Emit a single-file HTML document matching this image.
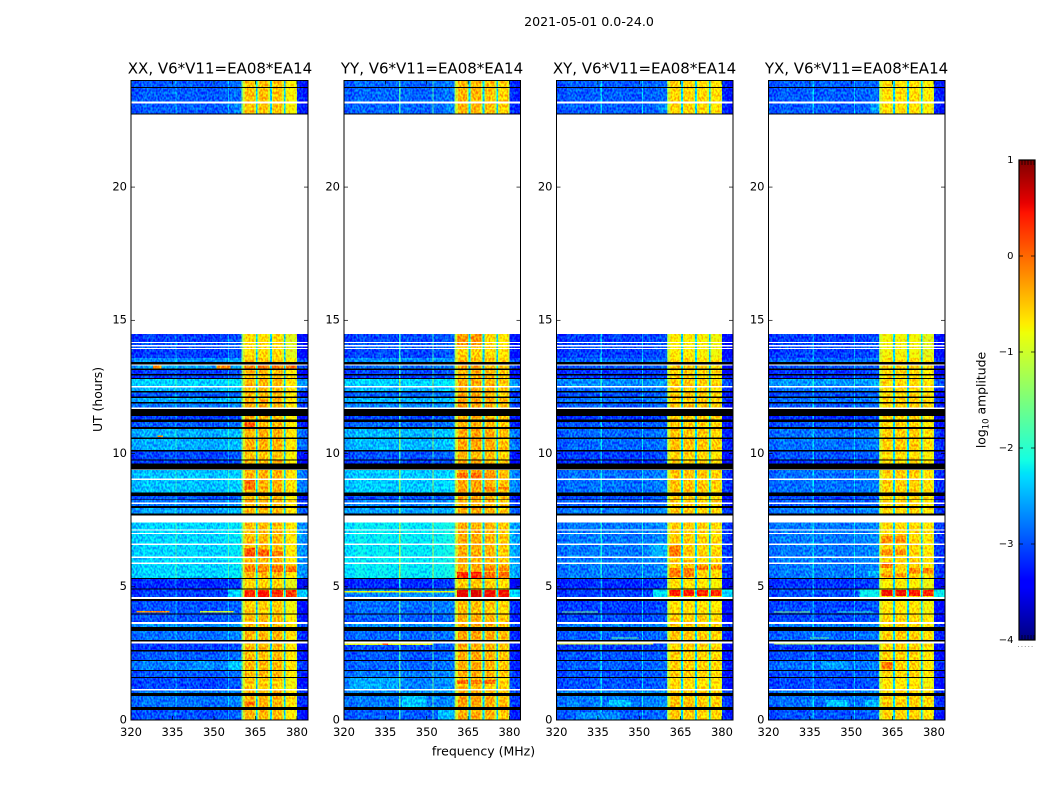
<!DOCTYPE html>
<html><head><meta charset="utf-8"><title>Spectrogram panels</title>
<style>
html,body{margin:0;padding:0;background:#fff;width:1050px;height:800px;overflow:hidden}
svg{display:block}
text{font-family:"DejaVu Sans","Liberation Sans",sans-serif;fill:#000}
</style></head><body>
<svg id="chart" xmlns="http://www.w3.org/2000/svg" width="1050" height="800" viewBox="0 0 1050 800">
<defs>
<filter id="speckle" x="0" y="0" width="1" height="1" color-interpolation-filters="sRGB">
<feTurbulence type="fractalNoise" baseFrequency="0.55 0.38" numOctaves="1" seed="7" result="n"/>
<feColorMatrix in="n" type="matrix" values="0 0 0 0 0.5 2.6 0 0 0 -0.8 0 0 0 0 0.5 0 0 0 0 1" result="g"/>
<feComposite in="SourceGraphic" in2="g" operator="arithmetic" k1="0" k2="1" k3="0.5" k4="-0.25" result="m"/>
<feComposite in="m" in2="SourceAlpha" operator="in"/>
</filter>
</defs>
<text x="589" y="26" font-size="12.6" text-anchor="middle">2021-05-01 0.0-24.0</text>
<text x="220" y="73.5" font-size="15" text-anchor="middle">XX, V6*V11=EA08*EA14</text>
<text x="432" y="73.5" font-size="15" text-anchor="middle">YY, V6*V11=EA08*EA14</text>
<text x="644.5" y="73.5" font-size="15" text-anchor="middle">XY, V6*V11=EA08*EA14</text>
<text x="856.5" y="73.5" font-size="15" text-anchor="middle">YX, V6*V11=EA08*EA14</text>
<text x="483.5" y="755.5" font-size="12.5" text-anchor="middle">frequency (MHz)</text>
<text transform="translate(102,399.5) rotate(-90)" font-size="12.4" text-anchor="middle">UT (hours)</text>
<text transform="translate(985.5,400) rotate(-90)" font-size="12.4" text-anchor="middle">log<tspan font-size="8.5" dy="3">10</tspan><tspan dy="-3"> amplitude</tspan></text>
<g id="panels"></g>
<g id="colorbar"></g>
</svg>
<script>
// ---- data (hours UT, MHz, log10 amplitude) ----
const xTickValues = [320,335,350,365,380];
const yTickValues = [0,5,10,15,20];
const colorTickValues = [1,0,-1,-2,-3,-4];
const rowStart = [0,.49,1.01,1.15,1.6,1.87,2.25,2.6,3,3.49,3.64,3.98,4.58,4.92,5.33,7.75,8.03,8.27,8.53,9.62,9.74,10.13,10.6,11,11.28,11.72,11.93,12.15,12.35,12.53,12.84,12.98,13.2,13.43,13.58,13.96,14.07,14.19,22.74];
const rowEnd = [.38,.91,1.14,1.6,1.87,2.25,2.6,2.9,3.34,3.64,3.98,4.47,4.9,5.29,7.47,7.95,8.25,8.4,9.38,9.74,10.1,10.54,10.93,11.18,11.4,11.88,12.08,12.3,12.47,12.8,12.92,13.13,13.3,13.58,13.92,14.02,14.14,14.48,24];
const lowXX = [-3,-2.85,-2.8,-3.05,-2.95,-2.8,-2.95,-3.1,-2.85,-2.7,-3,-3,-3.1,-3.2,-2.35,-2.6,-2.8,-3,-2.45,-3.1,-3.05,-2.55,-2.55,-2.95,-3.1,-2.8,-2.55,-2.95,-2.5,-2.35,-3.1,-3.1,-2.6,-2.7,-3.1,-3,-3,-3.1,-2.95];
const lowYY = [-2.95,-2.8,-2.7,-2.75,-2.8,-2.9,-2.95,-3,-2.9,-2.7,-2.95,-2.85,-2.7,-3.2,-2.25,-2.6,-2.75,-3,-2.4,-3.1,-3,-2.5,-2.5,-2.9,-3.05,-2.75,-2.5,-2.9,-2.5,-2.35,-3.1,-3.05,-2.85,-2.7,-3.05,-2.95,-2.95,-3.05,-2.9];
const lowXY = [-2.95,-2.8,-2.75,-3,-3,-2.95,-3,-3.1,-2.95,-2.8,-3.05,-3.1,-3.1,-3.2,-2.8,-2.8,-2.95,-3.05,-2.85,-3.15,-3.1,-2.9,-2.9,-3,-3.15,-2.95,-2.85,-3,-2.85,-2.7,-3.15,-3.15,-3,-2.9,-3.1,-3.05,-3.05,-3.1,-2.95];
const lowYX = [-3,-2.85,-2.8,-3.05,-3,-2.85,-3,-3.1,-2.9,-2.8,-3.05,-3.05,-3,-3.15,-2.8,-2.8,-2.95,-3.05,-2.85,-3.15,-3,-2.85,-2.85,-3,-3.15,-2.95,-2.85,-3,-2.85,-2.65,-3.15,-3.15,-3,-2.9,-3.1,-3.05,-3.05,-3.1,-2.95];
const blockShift = [0,.05,0,-.1,0,0,0,0,.05,0,0,-.1,-.05,-.15,0,0,0,0,.05,0,-.05,.05,.05,0,0,.05,.05,0,0,0,0,0,0,-.05,-.2,-.2,-.2,-.2,-.05];
const blockXX = [-.42,-.42,-.42,-.7];
const blockYY = [-.35,-.35,-.4,-.5];
const blockXY = [-.52,-.52,-.55,-.6];
const blockYX = [-.58,-.58,-.58,-.68];
const blockFrom = [361,366,371,376];
const blockTo = [364.9,369.9,374.9,379.8];
const channelEdges = [320,324,328,332,336,340,344,348,352,356,360,360.5,361.3,364.6,365.2,365.8,366.3,369.6,370.3,370.9,371.3,374.6,375.3,375.9,376.3,379.5,380,382,384];
const channelBlock = [-1,-1,-1,-1,-1,-1,-1,-1,-1,-1,6,7,0,7,4,7,1,7,4,7,2,7,4,7,3,7,5,5];
const channelOffset = [-.05,.05,0,.05,0,.05,0,0,.05,.1,0,0,0,0,0,0,0,0,0,0,0,0,0,0,0,0,.05,-.05];
const spikesXX = [336,355];
const spikesYY = [340,352];
const spikesXY = [336,351];
const spikesYX = [336,351];
const spikeBoost = [.5,1.05,.65,.55];
const blackFlags = [[.38,.49],[.91,1.01],[1.58,1.62],[1.83,1.88],[2.22,2.26],[2.58,2.62],[2.95,3],[3.34,3.49],[3.96,4],[4.47,4.55],[4.89,4.93],[5.29,5.33],[7.67,7.75],[7.95,8.03],[8.25,8.27],[8.4,8.53],[9.41,9.62],[9.74,9.77],[10.08,10.13],[10.54,10.6],[10.93,11],[11.18,11.28],[11.4,11.68],[11.88,11.93],[12.08,12.15],[12.3,12.35],[12.8,12.84],[12.92,12.98],[13.13,13.2],[13.35,13.43],[22.72,22.76],[23.72,23.76]];
const whiteFlags = [[1.11,1.16],[2.87,2.93],[3.6,3.68],[4.55,4.61],[5.85,5.92],[6.08,6.14],[6.56,6.62],[6.98,7.02],[7.11,7.15],[7.41,7.46],[7.47,7.66],[8.11,8.16],[9.01,9.06],[9.38,9.41],[11.68,11.72],[12.47,12.53],[13.3,13.35],[13.92,13.96],[14.02,14.07],[14.14,14.19],[23.14,23.22]];
// [panel, hourFrom, hourTo, mhzFrom, mhzTo, level]
const lowPatches = [
[0,13.2,13.3,328,331,-.2],[0,13.2,13.3,351,356,-.2],[0,10.62,10.68,329.5,331.5,-.2],[0,4.04,4.09,322,334,-.2],[0,4.04,4.09,345,357,-1],
[0,1.87,2.25,343,350,-2.65],[0,1.87,2.25,355,360,-2.4],[0,4.62,4.9,355,360,-2.35],[0,4.62,4.9,380,384,-2.4],
[1,4.78,4.84,320,360,-.85],[1,4.62,4.9,380,384,-2.3],[1,.49,.9,341,350,-2.4],[1,0,.38,354,360,-2.45],[1,1.15,1.6,322,340,-2.55],[1,2.82,2.87,320,352,-.9],[1,2.82,2.87,334,336,.1],
[2,.5,.75,339,347,-2.45],[2,0,.3,327,343,-2.7],[2,2.83,2.87,320,355,-.9],[2,3.05,3.09,340,350,-1.7],[2,4.03,4.08,322,335,-1.6],[2,4.62,4.9,355,360,-2.25],[2,4.62,4.9,380,384,-2.3],[2,6.1,6.6,354,360,-2.5],
[3,.5,.75,341,349,-2.4],[3,.5,.75,355,360,-2.5],[3,1.9,2.2,339,349,-2.6],[3,2.83,2.87,322,360,-1.2],[3,3.05,3.09,335,342,-1.7],[3,4.03,4.08,322,335,-1.5],[3,4.03,4.08,345,358,-2],[3,4.62,4.9,353,360,-2.2],[3,4.62,4.9,380,384,-2.2],[3,5.4,5.6,356,360,-2.5],
[3,22.8,23.14,357,360,-2.6],[2,22.8,23.14,357,360,-2.7],[1,22.8,23.14,357,360,-2.7],[0,22.8,23.14,357,360,-2.7]
];
// [panel, hourFrom, hourTo, blockNumber, level]
const hotPatches = [
[0,6.12,6.45,0,.1],[0,6.12,6.4,1,.05],[0,6.15,6.35,2,-.1],[0,5.55,5.8,0,-.1],[0,5.55,5.8,1,-.15],[0,5.55,5.8,2,-.05],[0,5.55,5.8,3,-.05],
[0,4.62,4.88,0,.35],[0,4.62,4.88,1,.45],[0,4.62,4.88,2,.3],[0,4.62,4.88,3,.3],[0,8.63,9,0,-.05],[0,10.95,11.2,0,.05],[0,.55,.7,0,-.05],[0,13.2,13.3,0,-.1],[0,13.2,13.3,1,-.1],[0,13.2,13.3,2,-.1],[0,13.2,13.3,3,-.1],
[1,5.3,5.55,0,.3],[1,5.3,5.55,1,.35],[1,5.3,5.55,2,-.05],[1,5.3,5.55,3,-.05],[1,4.62,4.88,0,.55],[1,4.62,4.88,1,.6],[1,4.62,4.88,2,.5],[1,4.62,4.88,3,.5],[1,9.1,9.27,0,.0],[1,9.1,9.27,1,.0],[1,9.1,9.27,2,-.2],[1,8.65,8.75,2,-.1],[1,8.65,8.75,3,-.1],[1,5.6,5.8,2,-.2],[1,5.6,5.8,3,-.2],[1,14,14.48,0,-.25],[1,14,14.48,1,-.25],[1,1.35,1.5,0,-.05],[1,1.35,1.5,1,-.05],[1,1.35,1.5,2,-.05],
[2,4.65,4.88,0,.45],[2,4.65,4.88,1,.45],[2,4.65,4.88,2,.4],[2,4.65,4.88,3,.35],[2,5.37,5.7,0,-.1],[2,5.37,5.7,1,-.1],[2,5.65,5.8,2,-.05],[2,5.65,5.8,3,-.15],[2,6.1,6.55,0,-.1],
[3,4.65,4.88,0,.5],[3,4.65,4.88,1,.5],[3,4.65,4.88,2,.4],[3,4.65,4.88,3,.35],[3,6.2,6.4,0,-.15],[3,6.2,6.4,1,-.2],[3,5.7,5.93,0,-.05],[3,5.37,5.5,0,-.2],[3,5.37,5.5,1,-.2],[3,5.5,5.7,2,-.15],[3,5.5,5.7,3,-.15],[3,6.65,6.9,0,-.2],[3,6.65,6.9,1,-.2],[3,1.9,2.18,0,-.1]
];

// ---- layout ----
const svgNS = 'http://www.w3.org/2000/svg';
const panelLeft = [131,344,556.5,768.5];
const panelRight = [308,520.5,733,945];
const plotBottom = 720, plotTop = 80.5;
const hoursMin = 0, hoursMax = 24, mhzMin = 320, mhzMax = 384;
const panelCodes = ['xx','yy','xy','yx'];
const lowByPanel = [lowXX,lowYY,lowXY,lowYX];
const blocksByPanel = [blockXX,blockYY,blockXY,blockYX];
const spikesByPanel = [spikesXX,spikesYY,spikesXY,spikesYX];

function xScale(p,m){return panelLeft[p]+(m-mhzMin)/(mhzMax-mhzMin)*(panelRight[p]-panelLeft[p]);}
function yScale(h){return plotBottom-(h-hoursMin)/(hoursMax-hoursMin)*(plotBottom-plotTop);}
function ramp(t,pts){for(let i=1;i<pts.length;i++){if(t<=pts[i][0]){const a=pts[i-1],b=pts[i];return a[1]+(b[1]-a[1])*(t-a[0])/(b[0]-a[0]);}}return pts[pts.length-1][1];}
function colorScale(v){
  const t=Math.max(0,Math.min(1,(v+4)/5));
  const r=ramp(t,[[0,0],[.35,0],[.66,1],[.89,1],[1,.5]]);
  const g=ramp(t,[[0,0],[.125,0],[.375,1],[.64,1],[.91,0],[1,0]]);
  const b=ramp(t,[[0,.5],[.11,1],[.34,1],[.65,0],[1,0]]);
  return 'rgb('+Math.round(r*255)+','+Math.round(g*255)+','+Math.round(b*255)+')';
}
function mk(tag,parent,attrs){const e=document.createElementNS(svgNS,tag);for(const k in attrs)e.setAttribute(k,attrs[k]);parent.appendChild(e);return e;}
function cell(parent,p,h0,h1,m0,m1,fill){
  const x0=xScale(p,m0),x1=xScale(p,m1),y0=yScale(h1),y1=yScale(h0);
  return mk('rect',parent,{x:x0.toFixed(2),y:y0.toFixed(2),width:(x1-x0).toFixed(2),height:(y1-y0).toFixed(2),fill:fill,'shape-rendering':'crispEdges'});
}

const panels=document.getElementById('panels');
panelCodes.forEach(function(code,p){
  const g=mk('g',panels,{});
  
  
  const heat=mk('g',g,{filter:'url(#speckle)'});
  
  
  rowStart.forEach(function(h0,b){
    const h1=rowEnd[b], low=lowByPanel[p][b];
    channelBlock.forEach(function(k,c){
      let v;
      if(k===-1) v=low+channelOffset[c];
      else if(k===4) v=-2.35;
      else if(k===5) v=low-.3+channelOffset[c];
      else if(k===6) v=-1.5;
      else if(k===7) v=-.95;
      else v=blocksByPanel[p][k]+blockShift[b]+channelOffset[c];
      const r=cell(heat,p,h0,h1,channelEdges[c],channelEdges[c+1],colorScale(v));
      
      
    });
    spikesByPanel[p].forEach(function(m){
      const r=cell(heat,p,h0,h1,m,m+.45,colorScale(low+spikeBoost[p]));
      
      
    });
  });
  lowPatches.forEach(function(q){
    if(q[0]!==p) return;
    const r=cell(heat,p,q[1],q[2],q[3],q[4],colorScale(q[5]));
    
    
  });
  hotPatches.forEach(function(q){
    if(q[0]!==p) return;
    const r=cell(heat,p,q[1],q[2],blockFrom[q[3]],blockTo[q[3]],colorScale(q[4]));
    
    
  });
  const flagsG=mk('g',g,{});
  
  
  whiteFlags.forEach(function(f){
    const r=cell(flagsG,p,f[0],f[1],mhzMin,mhzMax,'#fff');
    
    
  });
  blackFlags.forEach(function(f){
    const r=cell(flagsG,p,f[0],f[1],mhzMin,mhzMax,'#000');
    
    
  });
  const L=panelLeft[p],R=panelRight[p];
  const frame=mk('rect',g,{x:L,y:plotTop,width:R-L,height:plotBottom-plotTop,fill:'none',stroke:'#000','stroke-width':1});
  
  
  xTickValues.forEach(function(m){
    const x=xScale(p,m);
    const t1=mk('line',g,{x1:x,x2:x,y1:plotBottom,y2:plotBottom-4,stroke:'#000','stroke-width':.7});
    
    
    const t2=mk('line',g,{x1:x,x2:x,y1:plotTop,y2:plotTop+4,stroke:'#000','stroke-width':.7});
    
    
    const lb=mk('text',g,{x:x,y:736,'font-size':11.5,'text-anchor':'middle'});
    lb.textContent=String(m);
    
    
  });
  yTickValues.forEach(function(h){
    const y=yScale(h);
    const t1=mk('line',g,{x1:L,x2:L+4,y1:y,y2:y,stroke:'#000','stroke-width':.7});
    
    
    const t2=mk('line',g,{x1:R-4,x2:R,y1:y,y2:y,stroke:'#000','stroke-width':.7});
    
    
    const lb=mk('text',g,{x:L-4,y:y+3.3,'font-size':11.5,'text-anchor':'end'});
    lb.textContent=String(h);
    
    
  });
});

// ---- colorbar ----
const cbTop=160,cbBottom=640,cbL=1019,cbR=1035;
function cbY(v){return cbBottom-(v+4)/5*(cbBottom-cbTop);}
const cb=document.getElementById('colorbar');
for(let py=cbTop;py<cbBottom;py++){
  const v=-4+(cbBottom-py-.5)/(cbBottom-cbTop)*5;
  const r=mk('rect',cb,{x:cbL,y:py,width:cbR-cbL,height:1,fill:colorScale(v),'shape-rendering':'crispEdges'});
  
  
}
const cbFrame=mk('rect',cb,{x:cbL,y:cbTop,width:cbR-cbL,height:cbBottom-cbTop,fill:'none',stroke:'#000','stroke-width':1.2});


colorTickValues.forEach(function(v){
  const y=cbY(v);
  const lb=mk('text',cb,{x:1013.5,y:y+3,'font-size':10,'text-anchor':'end'});
  lb.textContent=(v<0?'\u2212':'')+Math.abs(v);
  
  
  [[cbL,cbL+4],[cbR-4,cbR]].forEach(function(s){
    const t=mk('line',cb,{x1:s[0],x2:s[1],y1:y,y2:y,stroke:'#000','stroke-width':.7});
    
    
  });
});
[1022,1025,1028,1031,1034].forEach(function(x){
  [[cbTop,cbTop+5],[cbBottom-5,cbBottom]].forEach(function(s){
    const t=mk('line',cb,{x1:x,x2:x,y1:s[0],y2:s[1],stroke:'#000','stroke-width':.7});
    
    
  });
});
const dots=mk('line',cb,{x1:1018,x2:1035,y1:646.5,y2:646.5,stroke:'#999','stroke-width':1,'stroke-dasharray':'1 2.4'});


</script>
</body></html>
